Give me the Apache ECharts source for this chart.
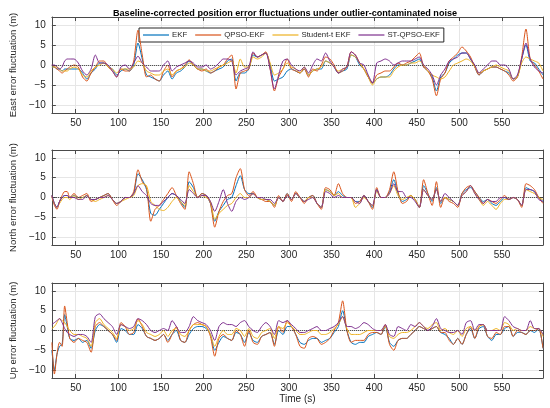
<!DOCTYPE html>
<html><head><meta charset="utf-8">
<script src="https://cdn.jsdelivr.net/npm/echarts@6/dist/echarts.min.js"></script>
<style>html,body{margin:0;padding:0;background:#fff}#c{width:550px;height:408px}</style>
</head><body><div id="c"></div>
<script>
const time = [22,25,28,31,34,37,40,43,48,53,58,63,68,73,78,83,88,93,98,103,108,113,118,123,128,133,138,143,148,153,158,163,168,173,178,183,188,193,198,203,208,213,218,223,228,233,238,243,248,253,258,263,268,273,278,283,288,293,298,303,308,313,318,323,328,333,338,343,348,353,358,363,368,373,378,383,388,393,398,403,408,413,418,423,428,433,438,443,448,453,458,463,468,473,478,483,488,493,498,503,508,513,518,523,528,533,538,543,548,553,558,563,568,573,578,583,588,593,598];

const seriesNames = ['EKF','QPSO-EKF','Student-t EKF','ST-QPSO-EKF'];
const xTicks = [50,100,150,200,250,300,350,400,450,500,550];
const yTicks = [-10,-5,0,5,10];
const panelTitles = ['East error fluctuation (m)','North error fluctuation (m)','Up error fluctuation (m)'];
const xLabel = 'Time (s)';
const chartTitle = 'Baseline-corrected position error fluctuations under outlier-contaminated noise';

// East
const eastEKF = [-0.5,-0.5,-1,-1,-1.5,-1,-1,-1,
-1,-1,-2,-3.5,-2,-1,0.5,0.5,-0.5,-1,
-2.5,-1.5,-1,-1.5,0,5.5,1.5,-2.5,-3,-3.5,
-4,-2.5,-1.5,-3.5,-2,-1.5,-0.5,1,0,-1,
-1,-1.5,-2,-1.5,-1,-0.5,1,1.5,-4,-2,
-2,-1,2.5,2,2.5,3,0,-4,-3.5,-3,
-1.5,-1,-1.5,-2,-1,-2.5,-1.5,-1,-1,1,
0.5,-0.5,-2,-1.5,-1,2.5,2,0,-1,-3,
-4.5,-3.5,-3,-3,-2.5,-1,0,0,0,0.5,
1,1.5,-0.5,-1.5,-3,-6.5,-3,-2,0.5,1.5,
2.5,3,3,1.5,-0.5,-2.5,-1.5,-1,-0.5,-0.5,
-1,-1.5,-2,-3.5,-3,1.5,5,1,0.5,-1,-2.5];
const eastQPSO = [0,-0.5,-1,-1.5,-2,-1.5,-1,-0.5,
0,-0.5,-3,-4,-2,-0.5,1,1,-0.5,-1.5,
-3,-1,-1.5,-1.5,1,8.7,2.5,-3,-2.5,-3.5,
-4,-1.5,0,-3,-1.5,-1,0,1.3,0,-1,
-1.5,-1,-2,-1.5,-0.5,0,1.5,2.5,-6,-2,
-1.5,-1,3,2,2.5,3.3,-1,-6.5,-3,-1,
1.5,-1,-1.5,-2,-1,-3,-1,-1.5,0,2,
1.5,0,-2,-1.5,-0.5,3.3,2.5,0.5,-1,-3,
-4.5,-2.5,-2,-1.5,-1.5,-0.5,0.5,0,0.5,1,
2,3,-0.5,-1.5,-3.5,-7.7,-3.5,-2,1,2,
3,4.5,3.5,2,-0.5,-2.5,-1.5,-1,-0.5,-0.5,
-1,-1.5,-2.5,-4,-3,2,9,1.5,0,-1.5,-3.5];
const eastST = [-0.5,-0.5,-0.5,-1,-1.5,-1.5,-1.5,-1,
-0.5,-1,-2.5,-3,-1.5,-0.5,0,0.5,-0.5,-1,
-2,-1,-1,-1,-0.5,1,0.5,-1.5,-2,-2.5,
-2.5,-1.5,-1,-2.5,-1.5,-1,-0.5,0.5,0,-1,
-1,-1.5,-1.5,-1,-0.5,0,0.5,1,-2,1.5,
-0.5,-0.5,2,1.5,2,3,0.5,-2.5,-2,-1,
0.5,-0.5,-1,-2,-0.5,-2.5,-1.5,-1,-0.5,1,
0.5,-0.5,-1.5,-1,-0.5,2.5,2,0.5,-1,-3,
-5,-3.5,-3,-3,-3,-1.5,-0.5,0,0,0.5,
0.5,1,0,-1.5,-2.5,-3,-3.5,-3,-1.5,0,
0.5,1,1.5,1,-0.5,-2,-1.5,-1,-0.5,0,
-0.5,-1,-1.5,-3.5,-3,0.5,2,1.5,1,0.5,-1.5];
const eastSTQPSO = [0,0,-0.5,-1,-0.5,1,1.5,1.5,
1.5,0.5,-1.5,-2.5,-1,2.5,0.5,0.5,0,-1.5,
-3,-0.5,0,-1,0.5,2.2,0.5,-0.5,-1.5,-1.5,
-1.5,0,1,-1.5,-0.5,0,0.5,1,0.5,-0.5,
-0.5,0,-1,-0.5,0.5,1.5,1.5,1,-2.5,-1.5,
-1,-0.5,3.3,2,2.5,3,-1,-6,-2.5,1,
1.5,0,-1,-1.5,-0.5,-2,0,1.5,1,3,
1,-0.5,-2,-1,-0.5,3.3,2.5,0.5,0,-2.5,
-4.5,0.5,1,1.5,1,0,0.5,1,1,1,
1.5,2,0,-1,-2.5,-5,-2.5,-1,1,1.5,
2,3,3,1.5,0,-2,-1,0,1,1,
0,0,-1,-3.5,-2.5,1.5,5.5,1.5,-0.5,-1.5,-2];

// North
const northEKF = [0.5,-1.5,-2.5,-1,0,0.5,0.5,0,
0.5,0,0,0.5,-0.5,-0.5,0,0.5,1,-0.5,
-1.5,-1,0,0,1,6,4.5,2,-4,-4.5,
-3,-1.5,0,1,0.5,-1,-2.5,4,2.5,0,
1,0.5,-1.5,-6,-3.5,-2,-0.5,0,3,5.5,
2,1,1,0,-0.5,-0.5,-1,-2,0,-1,
1,-0.5,1,0,-1,0,0.5,-1.5,-2.5,2,
1.5,0.5,1.5,0.5,0,0,-1,-1,0.5,-1,
-2.5,2,0,0,1.5,4.5,1,-1,-0.5,0.5,
-0.5,-2.5,3,1,-1,2.5,-1.5,0,-0.5,-1,
-2,1,2,2.5,1.5,0,-1,-0.5,-1.5,-2,
-1,0,-0.5,0,-0.5,-2,2.5,2,1.5,0,-1];
const northQPSO = [0.5,-2,-3,-1,0.5,1.5,1.5,0,
1,0,0.5,1,-1,-0.5,0,0.5,1,-0.5,
-2,-1,0,0,1.5,7,4,2.5,-6,-3,
-2,-0.5,1,2.5,0.5,-1.5,-3,6.5,3.5,0,
1,0.5,-1.5,-7.5,-3.5,-1,0.5,1,5,7.3,
2,0.5,1.5,0,-0.5,-1,-1,-2.5,0.5,-1,
1,-1,1.5,0,-1.5,0,0.5,-1.5,-3,2.5,
2,0.5,3.5,1,0,0,-1.5,-1,0.5,-1,
-3,2.5,0,0,2,6.5,1.5,-1.5,-1,0.5,
-0.5,-2.5,4.5,1,-2,4,-2.5,0,-1,-1.5,
-2.5,1,2.5,3,1.5,0,-1.5,-0.5,-1,-1.5,
-0.5,0.5,-0.5,0,-0.5,-2.5,3.5,3,2,0,-1.5];
const northST = [0,-1.5,-2.5,-1.5,-0.5,0,0,-0.5,
0.5,-0.5,0,0.5,-0.5,-1,-0.5,0,0.5,-0.5,
-1.5,-1,-0.5,0,0.5,3,3.5,3,-1,-2,
-3,-3.3,-2.5,-1,0,-1,-2,3,1.5,0,
0.5,0,-1,-5.5,-4,-3,-2,-1.5,0,1,
0,0,1,0,-0.5,-0.5,-1,-2,0,-1,
0.5,-0.5,1,0,-1,0,0,-1.5,-2.5,2,
1.5,0.5,1,0,0,0,-2.5,-1.5,0,-1,
-2,1.5,0,0,1,3,0.5,-0.5,0,0.5,
-0.5,-2.5,2,0.5,-0.5,2,-1,0,-0.5,-1,
-2,0.5,1.5,3,1,-0.5,-2,-1,-2,-3,
-1.5,-0.5,-0.5,0,-0.5,-2,2,1.5,1,0,-0.5];
const northSTQPSO = [0.5,-1.5,-2.5,-1,0,0.5,0.5,0,
0,-0.5,-0.5,0.5,-0.5,-0.5,0,0,0.5,-0.5,
-1.5,-1,0,0,1,3,1.5,0.5,-1.5,-2,
-2,-1,0,1,0.5,-0.5,-1.5,2,1,0,
0.5,0.5,-1,-3.5,-1,2,-1.5,-3.5,-1,0,
-0.5,0,1,0,0,-0.5,-0.5,-1.5,0,-1,
0.5,-0.5,1,0,-1,-0.5,0,-1.5,-2.5,1.5,
1,0,0.5,0,0,0,-1,-1.5,0.5,-1,
-2,2,0,0,1,3.5,1.5,1.5,0,0,
-1,-2.5,2,0.5,-0.5,2,-1,1,0,-1,
-2,0.5,1.5,3,1,-0.5,-1.5,-0.5,-1,-1,
0,0,-0.5,0,-0.5,-2,2,2,1.5,-0.5,-1];

// Up
const upEKF = [-5,-10,-6,-4,-3.5,4,1,-2,
-2.5,-2,-3,-2.5,-4.5,0,1.5,1,0,-1,
-3,0.5,0,-1,-1,1.5,0.5,-1.5,-2,-2.5,
-2,-1,-2.5,-1,0,-2.5,-3,-1,0.5,1,
1,0.5,-1,-5,-3,-1.5,-2,-2.5,-0.5,-1,
-3,-0.5,-2.5,-3,-1.5,-1,-0.5,-3.5,0,-1,
1,1,-1,-3,-3.5,-2.5,-2,-2,-3,-2.5,
-2,-0.5,1,5,0,-3,-3.5,-3,-3,-1.5,
-1,-0.5,-1,1,-3,-4,-2.5,-2,-2,-1,
0,1,0.5,0,0.5,1,-0.5,-1,-2,-3.5,
-2,-3.5,-1,0.5,-2,0.5,1,-1.5,-2.5,-1,
-1,0.5,1,-1.5,-0.5,-0.5,-1,0,-0.5,0.5,-4.5];
const upQPSO = [-3,-11,-6,-3,-4,6.2,2,-2,
-3,-2,-2.5,-3,-5.5,1,2,1,0,-1,
-2.5,2,1,-1,-0.5,3,1,-1.5,-2,-2.5,
-2,-1,-3,-1,1,-2.5,-3,0,1.5,2,
1.5,1,-1.5,-6.5,-2,-1,-2,-2.5,0,-1,
-4,0,-3,-3.5,-1.5,-1,-0.5,-4,1,-0.5,
2.5,1,-1,-4,-4.5,-2,-1.5,-2,-3.5,-3,
-2,0,2,7.5,0,-3,-2.5,-2.5,-2.5,-1,
-0.5,-0.5,-1,1.5,-3.5,-5,-2.5,-2,-2,-1,
0,1,0.5,0,0.5,1,-0.5,-0.5,-2.5,-3.5,
-2,-3.5,-1,1,-2,1,1.5,-1.5,-2,-0.5,
-1,1,1,-1.5,0,-0.5,-1,0,0,0.5,-4.5];
const upST = [0.5,1,2,3,2.5,2,1,0,
-1,-1,-1.5,-2,-4,2,3,1.5,0.5,-0.5,
-2,1.5,1,0,0.5,2.5,1.5,-0.5,-1,-1.5,
-1,0,-1.5,0,0.5,-1,-1.5,0,1.5,1.5,
1.5,1,-1,-4,-1.5,0,-1,-1,0.5,0,
-1.5,0.5,-1.5,-2,-0.5,0,0.5,-2,1,0.5,
2,1,0,-1,-1,-0.5,0,0,-1,-1,
-0.5,0.5,1.5,3.5,0.5,-1,-1,-1,-0.5,0,
0,0,0,1,-1.5,-2,-1,-0.5,-0.5,0,
1,2,1,0.5,1.5,2,0,0.5,-0.5,-1,
0,-1.5,0.5,1,0,1,1.5,0,0,0.5,
0,2,1.5,0,0.5,0,0,1,0.5,0.5,-1.5];
const upSTQPSO = [1.5,2,2.5,3,2,0.5,-0.5,-1,
-1.5,-1,-1,-1.5,-3,3.5,4.2,3,2,1,
-1,1.5,1,0.5,1,3,2.5,1.5,0,-0.5,
0,0.5,0,2.5,1,-0.5,-0.5,1,3.5,2.5,
2,1.5,0,-2.5,1,2,1.5,1.5,1,2,
2.5,1,0,-0.5,1,2,1,-1,2.5,2,
2.5,1.5,0.5,-0.5,-0.5,0,0.5,1,0,0,
0.5,1,2,3.5,1,1,0.5,1,2,1.5,
0.5,0,0,1.5,-1,-1.5,1,0.5,0,1.5,
1,2,1,0,1,3,0.5,0,-0.5,-0.5,
0,-1,2,2.5,0,1.5,1.5,0,0,0,
0,3.5,2.5,1,0.5,0,0,2.5,0.5,0.5,-1];

const panels = [
  [eastEKF, eastQPSO, eastST, eastSTQPSO],
  [northEKF, northQPSO, northST, northSTQPSO],
  [upEKF, upQPSO, upST, upSTQPSO]
];

const colors = ['#0072BD','#D95319','#EDB120','#7E2F8E'];
const FONT = "'Liberation Sans', Arial, Helvetica, sans-serif";
const AX = '#4a4a4a';
const TXT = '#262626';
const gridTops = [17, 150, 283];
const gridHeights = [96, 95, 95];

const grid = [], xAxis = [], yAxis = [], series = [];
const fmtY = v => v < 0 ? '\u2212' + Math.abs(v) : String(v);

panels.forEach((arrs, i) => {
  grid.push({left: 36, width: 507, top: gridTops[i], height: gridHeights[i], containLabel: false});
  xAxis.push({
    type: 'value', gridIndex: i, min: 22, max: 598, position: 'bottom',
    axisLine: {show: true, onZero: false, lineStyle: {color: AX, width: 1}},
    axisTick: {show: true, inside: true, length: 4, customValues: xTicks, lineStyle: {color: AX}},
    axisLabel: {show: true, customValues: xTicks, color: TXT, fontSize: 10, fontFamily: FONT, margin: 5},
    splitLine: {show: true, lineStyle: {color: '#e6e6e6', width: 1}},
    name: i === 2 ? xLabel : '', nameLocation: 'middle', nameGap: 16,
    nameTextStyle: {color: TXT, fontSize: 10, fontFamily: FONT}
  });
  xAxis.push({
    type: 'value', gridIndex: i, min: 22, max: 598, position: 'top',
    axisLine: {show: true, onZero: false, lineStyle: {color: AX, width: 1}},
    axisTick: {show: true, inside: true, length: 4, customValues: xTicks, lineStyle: {color: AX}},
    axisLabel: {show: false}, splitLine: {show: false}
  });
  yAxis.push({
    type: 'value', gridIndex: i, min: -12, max: 12, position: 'left',
    axisLine: {show: true, onZero: false, lineStyle: {color: AX, width: 1}},
    axisTick: {show: true, inside: true, length: 4, customValues: yTicks, lineStyle: {color: AX}},
    axisLabel: {show: true, customValues: yTicks, formatter: fmtY, color: TXT, fontSize: 10, fontFamily: FONT, margin: 6},
    splitLine: {show: true, lineStyle: {color: '#e6e6e6', width: 1}},
    name: panelTitles[i], nameLocation: 'middle', nameGap: 31,
    nameTextStyle: {color: TXT, fontSize: 9.5, fontFamily: FONT}
  });
  yAxis.push({
    type: 'value', gridIndex: i, min: -12, max: 12, position: 'right',
    axisLine: {show: true, onZero: false, lineStyle: {color: AX, width: 1}},
    axisTick: {show: true, inside: true, length: 4, customValues: yTicks, lineStyle: {color: AX}},
    axisLabel: {show: false}, splitLine: {show: false}
  });
  arrs.forEach((arr, j) => {
    const s = {
      type: 'line', name: seriesNames[j], xAxisIndex: 2 * i, yAxisIndex: 2 * i,
      data: time.map((t, k) => [t, arr[k]]),
      symbol: 'none', smooth: 0.25, animation: false,
      lineStyle: {width: 1, color: colors[j]}, itemStyle: {color: colors[j]}, z: 3 + j
    };
    if (j === 0) {
      s.markLine = {silent: true, symbol: 'none', animation: false, label: {show: false},
        lineStyle: {type: 'dotted', color: '#3a3a3a', width: 1}, data: [{yAxis: 0}]};
    }
    series.push(s);
  });
});

const chart = echarts.init(document.getElementById('c'), null, {renderer: 'canvas'});
chart.setOption({
  backgroundColor: '#fff',
  animation: false,
  title: {text: chartTitle, left: 108, top: 4,
    textStyle: {fontSize: 9.1, fontWeight: 'bold', color: '#000', fontFamily: FONT}},
  legend: {data: seriesNames, left: 139, top: 28, orient: 'horizontal',
    icon: 'rect', itemWidth: 26, itemHeight: 1.2, itemGap: 8, padding: [3, 4, 3, 4],
    backgroundColor: '#fff', borderColor: '#262626', borderWidth: 1, borderRadius: 0,
    textStyle: {fontSize: 7.8, color: TXT, fontFamily: FONT, padding: [0, 0, 0, -2]}},
  grid, xAxis, yAxis, series
});
</script>
</body></html>
